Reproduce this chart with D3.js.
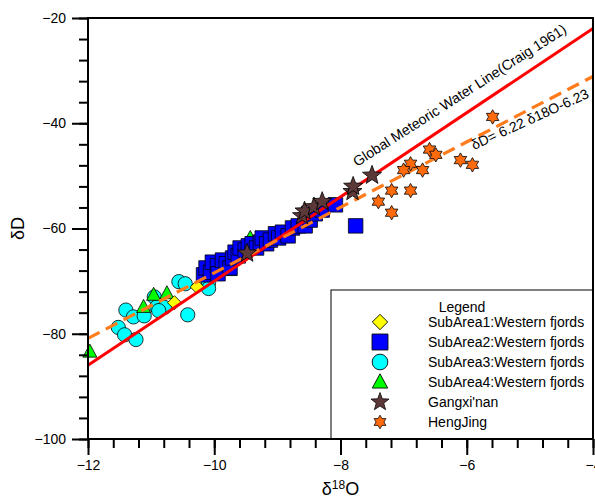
<!DOCTYPE html>
<html><head><meta charset="utf-8">
<script src="https://cdn.jsdelivr.net/npm/d3@7"></script>
<style>body{margin:0;background:#fff}svg{display:block}text{font-family:"Liberation Sans",Arial,sans-serif}</style>
</head><body>
<svg id="c" width="595" height="502"></svg>
<script>
// ---------- data ----------
const xTicksMajor = [-12, -10, -8, -6, -4];
const yTicksMajor = [-100, -80, -60, -40, -20];
const gmwlSlope = 8, gmwlIntercept = 10;
const fitSlope = 6.22, fitIntercept = -6.23;

const subArea1X = [-10.27, -10.63];
const subArea1Y = [-71.1, -74.1];

const subArea2X = [-10.17,-10.13,-10.06,-10.03,-9.95,-9.94,-9.87,-9.81,-9.75,-9.71,-9.67,-9.62,-9.59,-9.51,-9.46,-9.40,-9.33,-9.27,-9.24,-9.17,-9.11,-9.03,-8.98,-8.92,-8.83,-8.76,-8.67,-8.56,-8.48,-8.40,-8.29,-8.08,-7.76];
const subArea2Y = [-68.8,-67.5,-68.3,-66.4,-67.1,-68.6,-66.0,-66.7,-67.5,-65.6,-64.5,-65.2,-63.7,-64.1,-63.3,-62.9,-63.7,-62.6,-61.8,-62.9,-62.2,-61.0,-61.8,-60.7,-61.4,-59.9,-59.5,-59.5,-58.4,-57.2,-56.5,-55.5,-59.5];

const subArea3X = [-11.52,-11.42,-11.24,-11.40,-11.28,-11.11,-10.95,-10.91,-10.79,-10.88,-10.56,-10.46,-10.42,-10.09,-10.09];
const subArea3Y = [-78.8,-80.2,-81.1,-75.5,-76.8,-76.6,-73.0,-74.9,-75.0,-75.6,-70.1,-70.5,-76.4,-70.3,-71.4];

const subArea4X = [-11.97,-11.12,-10.96,-10.75,-9.75,-9.43];
const subArea4Y = [-83.4,-74.9,-72.6,-72.3,-67.9,-61.8];

const gangxiX = [-9.48,-8.61,-8.57,-8.42,-8.29,-7.81,-7.80,-7.50];
const gangxiY = [-64.7,-57.6,-56.7,-55.9,-54.9,-53.0,-52.0,-49.9];

const hengjingX = [-5.59,-6.59,-6.49,-6.10,-5.91,-6.89,-7.00,-6.70,-7.19,-6.89,-7.40,-7.19];
const hengjingY = [-38.8,-45.0,-46.0,-47.0,-47.9,-47.7,-48.9,-48.9,-52.8,-52.8,-54.9,-57.0];

const legendLabels = ["SubArea1:Western fjords","SubArea2:Western fjords","SubArea3:Western fjords","SubArea4:Western fjords","Gangxi'nan","HengJing"];

// ---------- drawing ----------
const svg = d3.select("#c");
const L = 88, R = 593, T = 18, B = 439;
const FS = 14;
const x = d3.scaleLinear().domain([-12, -4]).range([L, R]);
const y = d3.scaleLinear().domain([-100, -20]).range([B, T]);

function starPath(n, ro, ri) {
  const p = [];
  for (let i = 0; i < 2 * n; i++) {
    const r = i % 2 ? ri : ro;
    const a = -Math.PI / 2 + i * Math.PI / n;
    p.push([r * Math.cos(a), r * Math.sin(a)]);
  }
  return "M" + p.map(d => d[0].toFixed(2) + "," + d[1].toFixed(2)).join("L") + "Z";
}
const sym = {
  diamond: "M0,-7L7,0L0,7L-7,0Z",
  square: d3.symbol(d3.symbolSquare, 210)(),
  circle: d3.symbol(d3.symbolCircle, 160)(),
  triangle: "M0,-7.5L7,5.5L-7,5.5Z",
  star5: starPath(5, 10, 4.2),
  star6: starPath(6, 7.2, 4.16)
};
const styles = [
  {path: sym.diamond, fill: "#ffff00"},
  {path: sym.square, fill: "#0000ff"},
  {path: sym.circle, fill: "#00ffff"},
  {path: sym.triangle, fill: "#00ff00"},
  {path: sym.star5, fill: "#5c3838"},
  {path: sym.star6, fill: "#ff6a0d"}
];
const series = [
  [subArea1X, subArea1Y], [subArea2X, subArea2Y], [subArea3X, subArea3Y],
  [subArea4X, subArea4Y], [gangxiX, gangxiY], [hengjingX, hengjingY]
];

function drawSeries(si) {
  const [xs, ys] = series[si];
  svg.append("g").selectAll(null).data(xs.map((v, i) => [v, ys[i]])).enter().append("path")
    .attr("d", styles[si].path)
    .attr("transform", d => `translate(${x(d[0])},${y(d[1])})`)
    .attr("fill", styles[si].fill).attr("stroke", "#000").attr("stroke-width", 0.8);
}
[2, 3, 0, 1].forEach(drawSeries);

// lines
const lineG = svg.append("g");
lineG.append("line")
  .attr("x1", x(-12)).attr("y1", y(gmwlSlope * -12 + gmwlIntercept))
  .attr("x2", x(-4)).attr("y2", y(gmwlSlope * -4 + gmwlIntercept))
  .attr("stroke", "#ff0000").attr("stroke-width", 3);
lineG.append("line")
  .attr("x1", x(-12)).attr("y1", y(fitSlope * -12 + fitIntercept))
  .attr("x2", x(-4)).attr("y2", y(fitSlope * -4 + fitIntercept))
  .attr("stroke", "#ff7b1c").attr("stroke-width", 3.2).attr("stroke-dasharray", "13,7");

[4, 5].forEach(drawSeries);

// line labels
svg.append("text")
  .attr("transform", `translate(357,167) rotate(-32.7)`)
  .attr("font-size", 14.2).attr("fill", "#000")
  .text("Global Meteoric Water Line(Craig 1961)");
svg.append("text")
  .attr("transform", `translate(474,150) rotate(-24.5)`)
  .attr("font-size", FS).attr("fill", "#000")
  .text("\u03B4D= 6.22 \u03B418O-6.23");

// axes
const minorX = d3.range(-12, -4 + 0.001, 0.4).map(v => +v.toFixed(1));
const minorY = d3.range(-100, -20 + 0.001, 4);
const xAxis = svg.append("g").attr("transform", `translate(0,${B})`)
  .call(d3.axisBottom(x).tickValues(xTicksMajor).tickSize(16).tickPadding(5).tickFormat(d3.format("d")));
const xMinor = svg.append("g").attr("transform", `translate(0,${B})`)
  .call(d3.axisBottom(x).tickValues(minorX).tickSize(9).tickFormat(""));
const yAxis = svg.append("g").attr("transform", `translate(${L},0)`)
  .call(d3.axisLeft(y).tickValues(yTicksMajor).tickSize(16).tickPadding(6).tickFormat(d3.format("d")));
const yMinor = svg.append("g").attr("transform", `translate(${L},0)`)
  .call(d3.axisLeft(y).tickValues(minorY).tickSize(9).tickFormat(""));
[xAxis, xMinor, yAxis, yMinor].forEach(g => {
  g.selectAll("line").attr("stroke", "#000").attr("stroke-width", 2);
  g.select(".domain").remove();
  g.selectAll("text").attr("font-size", FS).attr("fill", "#000")
    .attr("font-family", "'Liberation Sans',Arial,sans-serif");
});

// legend box
const lg = svg.append("g");
lg.append("rect").attr("x", 331).attr("y", 290).attr("width", R - 331).attr("height", B - 290)
  .attr("fill", "#fff").attr("stroke", "#000").attr("stroke-width", 1);
lg.append("text").attr("x", 462).attr("y", 312).attr("text-anchor", "middle")
  .attr("font-size", FS).text("Legend");
legendLabels.forEach((lab, i) => {
  const yy = 322 + i * 20;
  lg.append("path").attr("d", styles[i].path).attr("transform", `translate(380,${yy}) scale(${i >= 4 ? 0.95 : 1.1})`)
    .attr("fill", styles[i].fill).attr("stroke", "#000").attr("stroke-width", 0.8);
  lg.append("text").attr("x", 428).attr("y", yy + 5).attr("font-size", FS).text(lab);
});

// frame
svg.append("path")
  .attr("d", `M${L},${B}L${L},${T}L${R},${T}L${R},${B}Z`)
  .attr("fill", "none").attr("stroke", "#000").attr("stroke-width", 2);

// axis titles
svg.append("text").attr("x", x(-8)).attr("y", 495).attr("text-anchor", "middle")
  .attr("font-family", "'Liberation Serif','Times New Roman',serif").attr("font-size", 18)
  .html('\u03B4<tspan font-size="12" dy="-6">18</tspan><tspan dy="6">O</tspan>');
svg.append("text").attr("transform", `translate(24,${y(-60)}) rotate(-90)`).attr("text-anchor", "middle")
  .attr("font-family", "'Liberation Serif','Times New Roman',serif").attr("font-size", 18)
  .text("\u03B4D");
</script>
</body></html>
